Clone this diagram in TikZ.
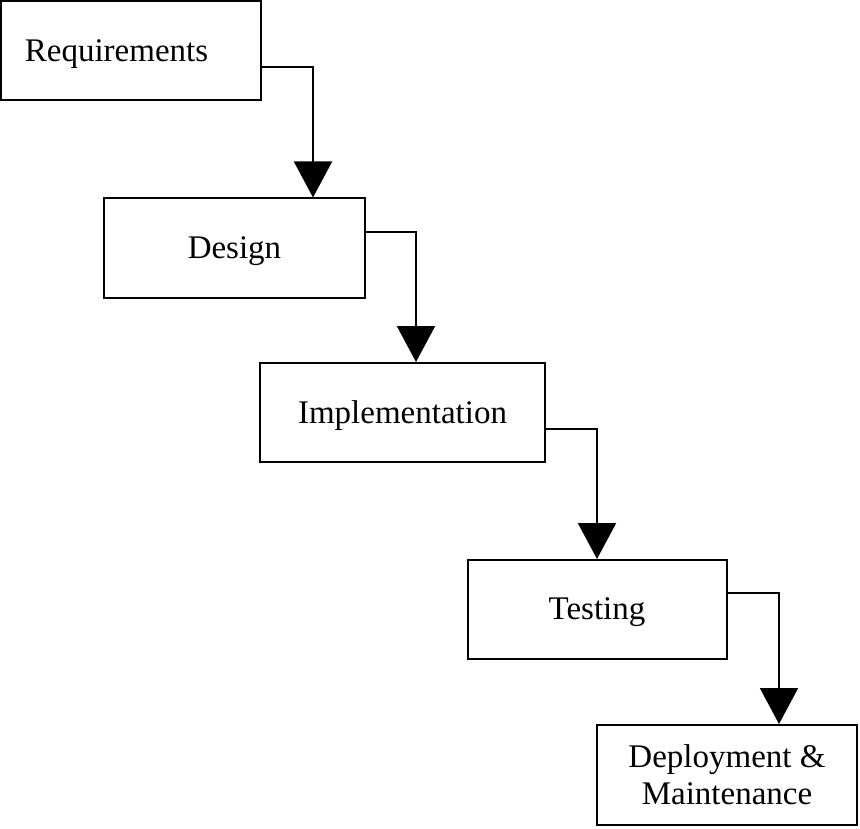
\documentclass[tikz,border=0pt]{standalone}
\usepackage{fontspec}
\setmainfont{Liberation Serif}
\usetikzlibrary{arrows.meta}
\newcommand{\lowtext}[1]{\raisebox{-1.5pt}[\height][\depth]{#1}}
\begin{document}
\begin{tikzpicture}[x=0.5pt,y=-0.5pt,
  stage/.style={draw=black, line width=1pt, fill=white, inner sep=0pt,
    font=\fontsize{16.5}{18.5}\selectfont, align=center},
  flow/.style={draw=black, line width=1pt,
    -{Triangle[width=19pt,length=18pt]}}]
\useasboundingbox[fill=white] (0,0) rectangle (860,828);
\node[stage, minimum width=130pt, minimum height=49.5pt] (req) at (131,51) {\lowtext{Requirements}\hspace*{14.5pt}};
\node[stage, minimum width=130.5pt, minimum height=49.5pt] (des) at (234.5,248) {\lowtext{Design}};
\node[stage, minimum width=142.5pt, minimum height=49.5pt] (imp) at (402.5,412.5) {\lowtext{Implementation}};
\node[stage, minimum width=129.5pt, minimum height=49.5pt] (tst) at (597,609.5) {\lowtext{Testing}};
\node[stage, minimum width=130pt, minimum height=50pt] (dep) at (727,775) {Deployment \&\\Maintenance};
\coordinate (b1) at (313,67);
\coordinate (b2) at (416,232);
\coordinate (b3) at (597,429);
\coordinate (b4) at (779,593);
\draw[flow] (b1 -| req.east) -- (b1) -- (b1 |- des.north);
\draw[flow] (b2 -| des.east) -- (b2) -- (b2 |- imp.north);
\draw[flow] (b3 -| imp.east) -- (b3) -- (b3 |- tst.north);
\draw[flow] (b4 -| tst.east) -- (b4) -- (b4 |- dep.north);
\end{tikzpicture}
\end{document}
